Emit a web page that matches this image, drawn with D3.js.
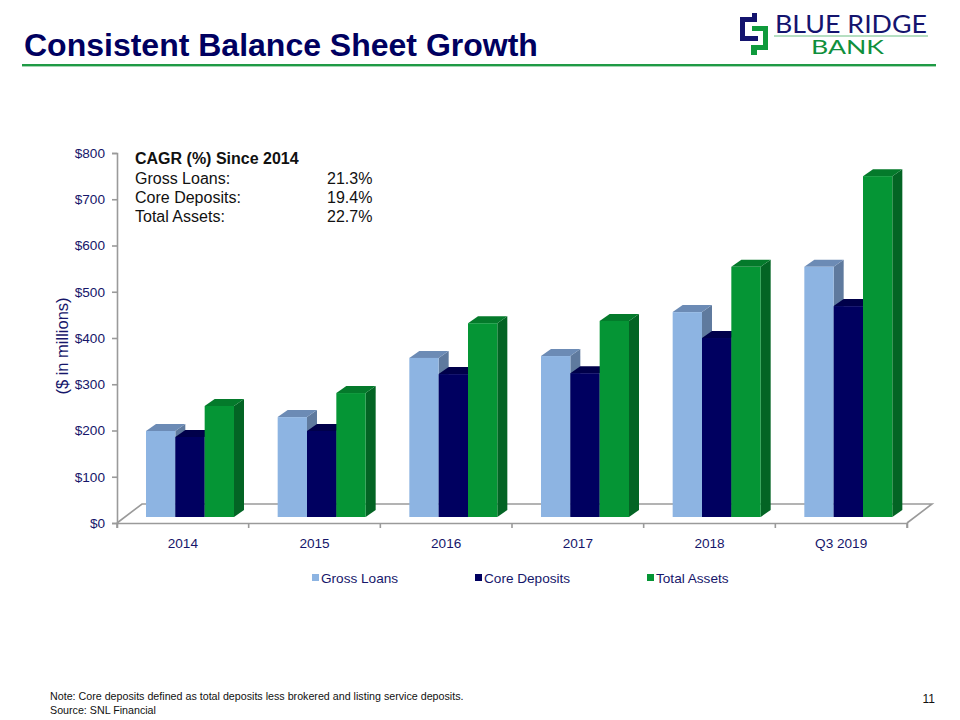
<!DOCTYPE html>
<html><head><meta charset="utf-8">
<style>html,body{margin:0;padding:0;background:#fff}svg{display:block}text{font-family:"Liberation Sans",Arial,sans-serif}</style>
<script src="https://cdn.jsdelivr.net/npm/d3@7"></script></head><body>
<svg id="c" width="960" height="720"></svg>
<script>
const categories = ["2014","2015","2016","2017","2018","Q3 2019"];
const seriesNames = ["Gross Loans","Core Deposits","Total Assets"];
const grossLoans = [186,216,344,348,443,541];
const coreDeposits = [173,186,309,311,387,456];
const totalAssets = [240,268,419,424,541,737];
const yTicks = [0,100,200,300,400,500,600,700,800];
const cagrLabels = ["Gross Loans:","Core Deposits:","Total Assets:"];
const cagrValues = ["21.3%","19.4%","22.7%"];

const navy="#16166a", ink="#111111";
const faces=[
 {front:"#8db4e2",top:"#6c8bb5",side:"#5f7a9e"},
 {front:"#000060",top:"#00004a",side:"#00003c"},
 {front:"#059535",top:"#047a2b",side:"#036424"}];
const svg=d3.select("#c");

// header
svg.append("text").attr("x",24).attr("y",55.5).attr("font-size",32).attr("font-weight","bold").attr("fill","#000060").text("Consistent Balance Sheet Growth");
svg.append("rect").attr("x",22).attr("y",64).attr("width",914).attr("height",2.4).attr("fill","#1f9a45");

// logo
const logo=svg.append("g");
logo.append("path").attr("d","M740 17H752V13H757V22H745V36H758V41H740Z").attr("fill","#14146e");
logo.append("path").attr("d","M752 26H768V50H757V55H751V45H763V31H752Z").attr("fill","#0f9a3c");
logo.append("text").attr("x",775).attr("y",33).attr("font-size",25).attr("fill","#14146e").attr("textLength",152).attr("lengthAdjust","spacingAndGlyphs").style("font-family","Lato").text("BLUE RIDGE");
logo.append("rect").attr("x",774).attr("y",35.5).attr("width",154).attr("height",1).attr("fill","#6fbf86");
logo.append("text").attr("x",811).attr("y",54).attr("font-size",20).attr("fill","#0f8f3c").attr("textLength",73).attr("lengthAdjust","spacingAndGlyphs").style("font-family","Lato").text("BANK");

// chart
const left=117,right=907,floorY=523,depthX=25,depthY=19;
const barBase=517,barDX=10,barDY=7;
const y=d3.scaleLinear().domain([0,800]).range([floorY,153]);
const x=d3.scaleBand().domain(categories).range([left,right]);
const inner=d3.scaleBand().domain(seriesNames).range([29,117]);
const yBar=v=>barBase-(y(0)-y(v));
const grey="#9a9a9a";

// floor
svg.append("path").attr("fill","none").attr("stroke",grey).attr("stroke-width",1.6)
 .attr("d",`M${left} ${floorY}L${left+depthX} ${floorY-depthY}H${right+depthX}L${right} ${floorY}`);

// axes
const ax=d3.axisLeft(y).tickValues(yTicks).tickSize(5).tickFormat(d=>"$"+d);
const gy=svg.append("g").attr("transform",`translate(${left},0)`).call(ax);
const bx=d3.axisBottom(x).tickSize(5).tickSizeOuter(5);
const gx=svg.append("g").attr("transform",`translate(0,${floorY})`).call(bx);
[gy,gx].forEach(g=>{g.selectAll("path,line").attr("stroke",grey).attr("stroke-width",1.6);
 g.selectAll("text").attr("fill",navy).attr("font-size",13.6);});
gy.selectAll("text").attr("x",-12).attr("dy","0.32em");
gx.selectAll(".tick line").remove();
gx.selectAll(".tick text").attr("y",15).attr("dy","0.71em");
const tickEdges=d3.range(categories.length+1).map(i=>left+i*x.step());
gx.selectAll(".edge").data(tickEdges).join("line").attr("class","edge").attr("x1",d=>d).attr("x2",d=>d).attr("y1",0).attr("y2",5).attr("stroke",grey).attr("stroke-width",1.6);

// bars
const series=[grossLoans,coreDeposits,totalAssets];
categories.forEach((c,ci)=>{
 const g=svg.append("g");
 series.forEach((vals,si)=>{
  const v=vals[ci],x0=x(c)+inner(seriesNames[si]),w=inner.bandwidth(),t=yBar(v),f=faces[si];
  g.append("path").attr("fill",f.side).attr("d",`M${x0+w} ${t}l${barDX} ${-barDY}V${barBase-barDY}l${-barDX} ${barDY}Z`);
  g.append("path").attr("fill",f.top).attr("d",`M${x0} ${t}l${barDX} ${-barDY}h${w}l${-barDX} ${barDY}Z`);
  g.append("rect").attr("x",x0).attr("y",t).attr("width",w).attr("height",barBase-t).attr("fill",f.front);
 });
});

// y title
svg.append("text").attr("transform","translate(68,346) rotate(-90)").attr("text-anchor","middle").attr("font-size",16.5).attr("fill",navy).text("($ in millions)");

// CAGR box
svg.append("text").attr("x",135).attr("y",164).attr("font-size",16).attr("font-weight","bold").attr("fill",ink).text("CAGR (%) Since 2014");
cagrLabels.forEach((l,i)=>{
 svg.append("text").attr("x",135).attr("y",183.5+i*19.3).attr("font-size",16).attr("fill",ink).text(l);
 svg.append("text").attr("x",327).attr("y",183.5+i*19.3).attr("font-size",16).attr("fill",ink).text(cagrValues[i]);
});

// legend
const legendX=[312,475,647];
seriesNames.forEach((n,i)=>{
 svg.append("rect").attr("x",legendX[i]).attr("y",574).attr("width",7).attr("height",7).attr("fill",faces[i].front);
 svg.append("text").attr("x",legendX[i]+9).attr("y",582.5).attr("font-size",13.6).attr("fill",navy).text(n);
});

// footer
svg.append("text").attr("x",50).attr("y",699.5).attr("font-size",10.7).attr("fill",ink).text("Note: Core deposits defined as total deposits less brokered and listing service deposits.");
svg.append("text").attr("x",50).attr("y",714).attr("font-size",10.7).attr("fill",ink).text("Source: SNL Financial");
svg.append("text").attr("x",935).attr("y",703).attr("text-anchor","end").attr("font-size",12).attr("fill",ink).text("11");
</script></body></html>
